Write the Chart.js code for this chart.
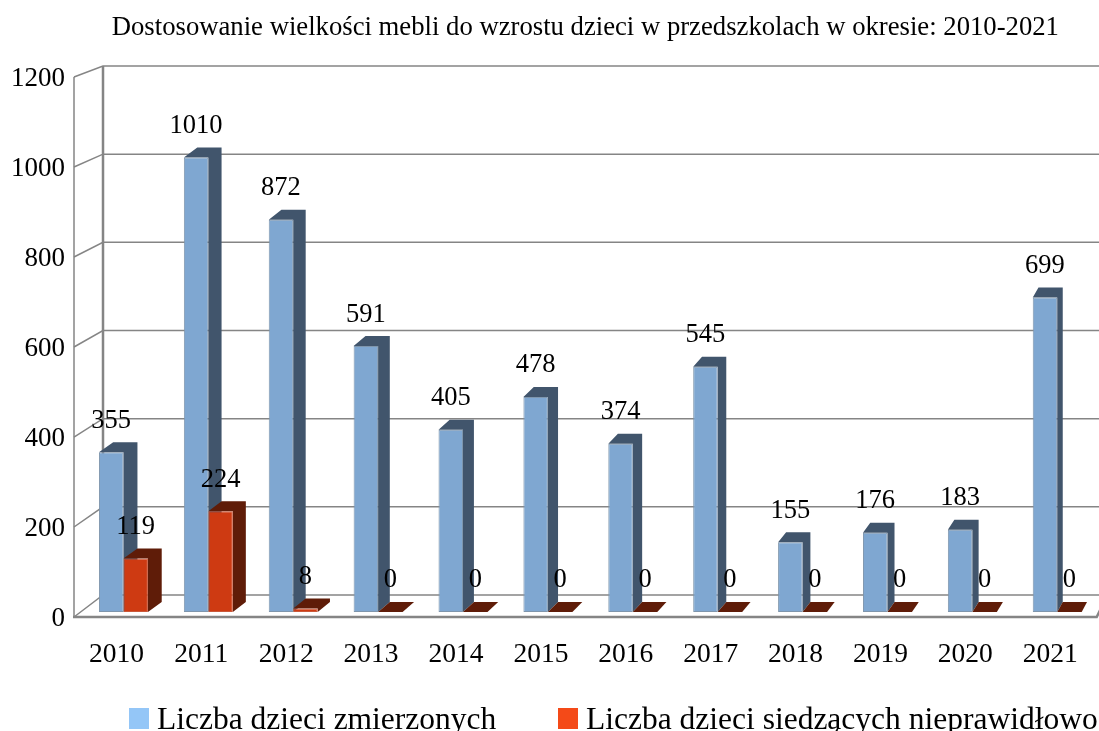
<!DOCTYPE html>
<html>
<head>
<meta charset="utf-8">
<style>
  html, body { margin: 0; padding: 0; background: #fff; overflow: hidden; }
  canvas { display: block; }
</style>
<script src="https://cdn.jsdelivr.net/npm/chart.js@4/dist/chart.umd.min.js"></script>
</head>
<body>
<canvas id="furnitureChart" width="1099" height="731"></canvas>
<script>
const years = ['2010','2011','2012','2013','2014','2015','2016','2017','2018','2019','2020','2021'];
const measured = [355, 1010, 872, 591, 405, 478, 374, 545, 155, 176, 183, 699];
const seatedWrong = [119, 224, 8, 0, 0, 0, 0, 0, 0, 0, 0, 0];
const seriesNames = ['Liczba dzieci zmierzonych', 'Liczba dzieci siedzących nieprawidłowo'];
const titleText = 'Dostosowanie wielkości mebli do wzrostu dzieci w przedszkolach w okresie: 2010-2021';

const FONT = '"Liberation Serif", "Times New Roman", serif';
const GRID = '#858585';
const colors = [
  { front: '#7fa7d1', edge: '#7f96ad', side: '#41556c', legend: '#94c6f7' },
  { front: '#ce3a12', edge: '#c9583a', side: '#5f1c08', legend: '#f44a18' }
];

// the picture is a fake 3D box: bars stand a bit behind the front plane
const barShift = { x: 7, y: -5 };
const barRise = -10;
const wall = { dx: 29, floorY: 595, topY: 66 };

// perspective: bar depth gets smaller going right (14px at the left, about 5px at the right)
function depthAt(x) {
  return 14 - (x - 117) * 0.0091;
}

// back wall, side wall and floor, then side+top faces of the bars
const boxPlugin = {
  id: 'box',
  afterLayout(chart) {
    chart.titleBlock.left += 2;
    chart.titleBlock.right += 2;
  },
  beforeDatasetsDraw(chart) {
    const { ctx, chartArea: a, scales: { y } } = chart;
    const backX = a.left + wall.dx;
    const backY = py => wall.floorY - (a.bottom - py) * (wall.floorY - wall.topY) / (a.bottom - a.top);
    ctx.save();
    ctx.strokeStyle = GRID;
    ctx.lineWidth = 1.5;
    y.ticks.forEach(t => {
      const py = y.getPixelForValue(t.value);
      ctx.beginPath();
      ctx.moveTo(a.left, py);
      ctx.lineTo(backX, backY(py));
      ctx.lineTo(chart.width, backY(py));
      ctx.stroke();
    });
    ctx.lineWidth = 2.5;
    ctx.beginPath();
    ctx.moveTo(backX, backY(a.top));
    ctx.lineTo(backX, backY(a.bottom));
    ctx.stroke();
    ctx.lineWidth = 1.5;
    ctx.beginPath();
    ctx.moveTo(a.left, a.top);
    ctx.lineTo(a.left, a.bottom);
    ctx.stroke();
    ctx.lineWidth = 2.5;
    ctx.beginPath();
    ctx.moveTo(a.left - 1, a.bottom);
    ctx.lineTo(a.right + 4, a.bottom);
    ctx.lineTo(a.right + 8, a.bottom - 8);
    ctx.stroke();

    // blue first, the red fronts have to cover the blue sides later
    ctx.translate(barShift.x, barShift.y);
    chart.data.datasets.forEach((ds, i) => {
      ctx.fillStyle = colors[i].side;
      chart.getDatasetMeta(i).data.forEach(bar => {
        const l = bar.x - bar.width / 2, r = bar.x + bar.width / 2;
        const dl = depthAt(l), dr = depthAt(r), dy = barRise;
        ctx.beginPath();
        ctx.moveTo(l, bar.y);
        ctx.lineTo(l + dl, bar.y + dy);
        ctx.lineTo(r + dr, bar.y + dy);
        ctx.lineTo(r + dr, bar.base + dy);
        ctx.lineTo(r, bar.base);
        ctx.lineTo(r, bar.y);
        ctx.closePath();
        ctx.fill();
      });
    });
    ctx.restore();
  },
  beforeDatasetDraw(chart) {
    chart.ctx.save();
    chart.ctx.translate(barShift.x, barShift.y);
  },
  afterDatasetDraw(chart) {
    chart.ctx.restore();
  }
};

const labelsPlugin = {
  id: 'valueLabels',
  afterDatasetsDraw(chart) {
    const { ctx } = chart;
    ctx.save();
    ctx.font = '26.5px ' + FONT;
    ctx.fillStyle = '#000';
    ctx.textAlign = 'center';
    ctx.textBaseline = 'middle';
    chart.data.datasets.forEach((ds, i) => {
      chart.getDatasetMeta(i).data.forEach((bar, j) => {
        ctx.fillText(ds.data[j], bar.x + barShift.x, bar.y + barShift.y - 31.5);
      });
    });
    ctx.restore();
  }
};

const legendPlugin = {
  id: 'bottomLegend',
  afterDraw(chart) {
    const { ctx } = chart;
    const startX = [129, 558];
    ctx.save();
    ctx.font = '31.5px ' + FONT;
    ctx.textBaseline = 'alphabetic';
    seriesNames.forEach((name, i) => {
      ctx.fillStyle = colors[i].legend;
      ctx.fillRect(startX[i], 708, 20, 21);
      ctx.fillStyle = '#000';
      ctx.fillText(name, startX[i] + 28, 729);
    });
    ctx.restore();
  }
};

const ctx = document.getElementById('furnitureChart').getContext('2d');
const myChart = new Chart(ctx, {
  type: 'bar',
  data: {
    labels: years,
    datasets: [measured, seatedWrong].map((values, i) => ({
      label: seriesNames[i],
      data: values,
      backgroundColor: colors[i].front,
      borderColor: colors[i].edge,
      borderWidth: 1,
      borderSkipped: false,
      clip: false
    }))
  },
  options: {
    responsive: false,
    animation: false,
    categoryPercentage: 0.577,
    barPercentage: 1,
    layout: { padding: { left: 0, right: 6, top: 0, bottom: 0 } },
    plugins: {
      legend: { display: false },
      tooltip: { enabled: false },
      title: {
        display: true,
        text: titleText,
        fullSize: false,
        color: '#000',
        font: { family: FONT, size: 26.7, weight: 'normal', lineHeight: 1.2 },
        padding: { top: 12, bottom: 33 }
      }
    },
    scales: {
      x: {
        grid: { display: false, drawTicks: false },
        border: { display: false },
        ticks: {
          color: '#000',
          font: { family: FONT, size: 27.5 },
          padding: 21,
          autoSkip: false,
          maxRotation: 0
        },
        afterFit(scale) { scale.height = 114; }
      },
      y: {
        min: 0,
        max: 1200,
        grid: { display: false, drawTicks: false },
        border: { display: false },
        ticks: {
          stepSize: 200,
          color: '#000',
          font: { family: FONT, size: 27 },
          padding: 9,
          labelOffset: 2,
          callback: value => String(value)
        },
        afterFit(scale) { scale.width = 74; }
      }
    }
  },
  plugins: [boxPlugin, labelsPlugin, legendPlugin]
});
</script>
</body>
</html>
